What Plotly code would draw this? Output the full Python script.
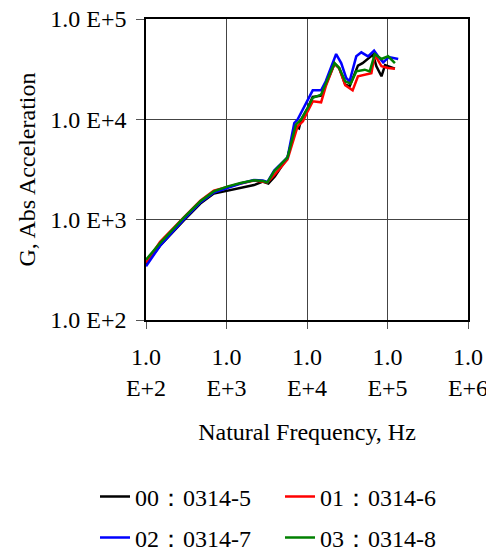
import plotly.graph_objects as go

# log10 frequency (Hz) and log10 G values
lf_00 = [2.0, 2.175, 2.467, 2.675, 2.842, 3.017, 3.175, 3.342, 3.45, 3.52, 3.6, 3.758, 3.86, 3.9, 3.925, 4.008, 4.071, 4.175, 4.233, 4.342, 4.4, 4.475, 4.53, 4.633, 4.69, 4.821, 4.862, 4.925, 4.97, 5.092]
lg_00 = [2.56, 2.74, 2.99, 3.16, 3.26, 3.29, 3.315, 3.345, 3.38, 3.36, 3.43, 3.62, 3.93, 3.91, 3.99, 4.113, 4.223, 4.236, 4.345, 4.555, 4.51, 4.346, 4.33, 4.535, 4.56, 4.645, 4.528, 4.429, 4.54, 4.505]

lf_01 = [2.0, 2.175, 2.467, 2.675, 2.842, 3.017, 3.175, 3.342, 3.45, 3.508, 3.6, 3.758, 3.883, 3.95, 4.008, 4.071, 4.175, 4.233, 4.342, 4.4, 4.475, 4.567, 4.633, 4.758, 4.8, 4.842, 4.925, 5.008, 5.092]
lg_01 = [2.57, 2.78, 3.02, 3.19, 3.29, 3.33, 3.36, 3.39, 3.38, 3.37, 3.45, 3.60, 3.93, 3.98, 4.08, 4.179, 4.17, 4.328, 4.555, 4.51, 4.339, 4.289, 4.429, 4.455, 4.46, 4.645, 4.529, 4.512, 4.505]

lf_02 = [2.0, 2.175, 2.467, 2.675, 2.842, 3.017, 3.175, 3.342, 3.45, 3.508, 3.592, 3.758, 3.842, 3.883, 4.008, 4.071, 4.175, 4.233, 4.362, 4.425, 4.487, 4.529, 4.612, 4.675, 4.758, 4.833, 4.883, 4.946, 5.017, 5.133]
lg_02 = [2.535, 2.74, 3.00, 3.17, 3.27, 3.32, 3.36, 3.395, 3.39, 3.375, 3.49, 3.62, 3.963, 3.997, 4.196, 4.289, 4.289, 4.379, 4.651, 4.561, 4.412, 4.379, 4.628, 4.668, 4.628, 4.684, 4.628, 4.568, 4.621, 4.601]

lf_03 = [2.0, 2.175, 2.467, 2.675, 2.842, 3.017, 3.175, 3.342, 3.45, 3.508, 3.592, 3.758, 3.862, 3.925, 4.008, 4.071, 4.175, 4.233, 4.342, 4.4, 4.475, 4.542, 4.612, 4.717, 4.779, 4.842, 4.925, 5.008, 5.092]
lg_03 = [2.601, 2.767, 3.017, 3.183, 3.282, 3.332, 3.365, 3.392, 3.385, 3.372, 3.482, 3.621, 3.947, 3.997, 4.113, 4.213, 4.246, 4.362, 4.561, 4.512, 4.379, 4.355, 4.478, 4.495, 4.478, 4.651, 4.601, 4.628, 4.561]

names = ["00\uff1a0314-5", "01\uff1a0314-6", "02\uff1a0314-7", "03\uff1a0314-8"]
colors = ["#000000", "#ff0000", "#0000ff", "#008000"]
legend_ids = ["legend", "legend2", "legend3", "legend4"]
series = [(lf_00, lg_00), (lf_01, lg_01), (lf_02, lg_02), (lf_03, lg_03)]

x_tickvals = [1e2, 1e3, 1e4, 1e5, 1e6]
x_ticktext = ["1.0<br>E+2", "1.0<br>E+3", "1.0<br>E+4", "1.0<br>E+5", "1.0<br>E+6"]
y_tickvals = [1e2, 1e3, 1e4, 1e5]
y_ticktext = ["1.0 E+2", "1.0 E+3", "1.0 E+4", "1.0 E+5"]

FONT = "Liberation Serif, Times New Roman, serif"
FS = 24
W, H = 486, 544  # page adds an 8px body margin

fig = go.Figure()
for (lf, lg), n, c, lid in zip(series, names, colors, legend_ids):
    fig.add_trace(go.Scatter(
        x=[10 ** v for v in lf], y=[10 ** v for v in lg],
        mode="lines", name=n, line=dict(color=c, width=2.5), legend=lid))


def leg(xpx, ypx):
    return dict(orientation="h", xanchor="left", yanchor="middle",
                x=xpx / W, y=1 - ypx / H,
                font=dict(family=FONT, size=FS), bgcolor="rgba(0,0,0,0)",
                xref="container", yref="container")


fig.update_layout(
    width=W, height=H,
    margin=dict(l=138, r=26, t=11, b=232, autoexpand=False),
    paper_bgcolor="white", plot_bgcolor="white",
    font=dict(family=FONT, size=FS, color="black"),
    showlegend=True,
    legend=leg(87, 489),
    legend2=leg(272, 489),
    legend3=leg(87, 530),
    legend4=leg(272, 530),
)
fig.update_xaxes(
    type="log", range=[2, 6], tickvals=x_tickvals, ticktext=x_ticktext,
    showgrid=True, gridcolor="#444444", gridwidth=1,
    showline=True, linecolor="black", linewidth=1.5, mirror=True,
    ticks="outside", ticklen=7, tickcolor="#555555",
    ticklabelstandoff=7, automargin=False, ticklabeloverflow="allow",
    title=dict(text="Natural Frequency, Hz", standoff=23, font=dict(size=FS)),
    zeroline=False,
)
fig.update_yaxes(
    type="log", range=[2, 5], tickvals=y_tickvals, ticktext=y_ticktext,
    showgrid=True, gridcolor="#444444", gridwidth=1,
    showline=True, linecolor="black", linewidth=1.5, mirror=True,
    ticks="outside", ticklen=8, tickcolor="#555555",
    ticklabelstandoff=5, automargin=False, ticklabeloverflow="allow",
    title=dict(text="G, Abs Acceleration", standoff=8, font=dict(size=FS)),
    zeroline=False,
)

fig.write_html("out.html")
